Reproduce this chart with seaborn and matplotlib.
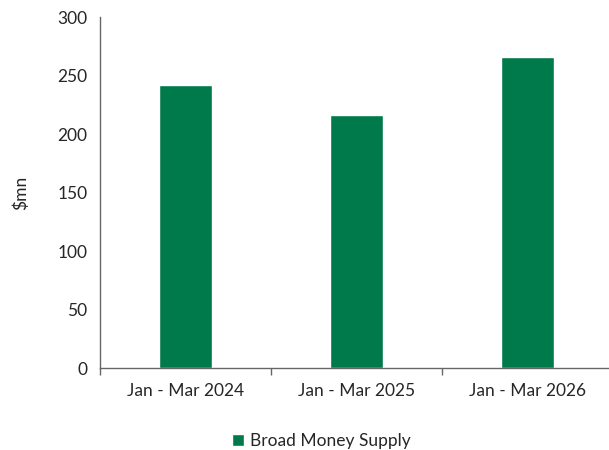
import pandas as pd
import seaborn as sns
import matplotlib.pyplot as plt

periods = ["Jan - Mar 2024", "Jan - Mar 2025", "Jan - Mar 2026"]
money_supply = [242, 216, 266]

df = pd.DataFrame({"period": periods, "value": money_supply})

sns.set_theme(style="white")
plt.rcParams["font.family"] = ["Lato", "DejaVu Sans"]

fig, ax = plt.subplots(figsize=(6.09, 4.5), dpi=100)
# axis runs past the right edge, like the cropped original
fig.subplots_adjust(left=0.164, right=1.007, top=0.962, bottom=0.182)

sns.barplot(data=df, x="period", y="value", color="#007A4B", width=0.31,
            saturation=1, ax=ax, label="Broad Money Supply")

ax.set_ylim(0, 300)
ax.set_yticks(range(0, 301, 50))
ax.set_xlim(-0.5, 2.5)
ax.set_xticks([0, 1, 2], periods)
ax.set_xticks([-0.5, 0.5, 1.5], minor=True)
ax.tick_params(axis="x", which="major", length=0, pad=11, labelsize=12.5)
ax.tick_params(axis="x", which="minor", length=5, width=1, color="#666666",
               direction="out", bottom=True)
ax.tick_params(axis="y", length=5, width=1, color="#666666", direction="out",
               labelsize=12.5, pad=4)

ax.set_xlabel("")
ax.set_ylabel("$mn", fontsize=12.5, labelpad=20)

for s in ["top", "right"]:
    ax.spines[s].set_visible(False)
for s in ["left", "bottom"]:
    ax.spines[s].set_color("#666666")
    ax.spines[s].set_linewidth(1)

ax.legend(loc="upper center", bbox_to_anchor=(0.432, -0.14), frameon=False,
          fontsize=12.5, handlelength=0.7, handleheight=0.7, handletextpad=0.35)

fig.savefig("out.png", dpi=100)
